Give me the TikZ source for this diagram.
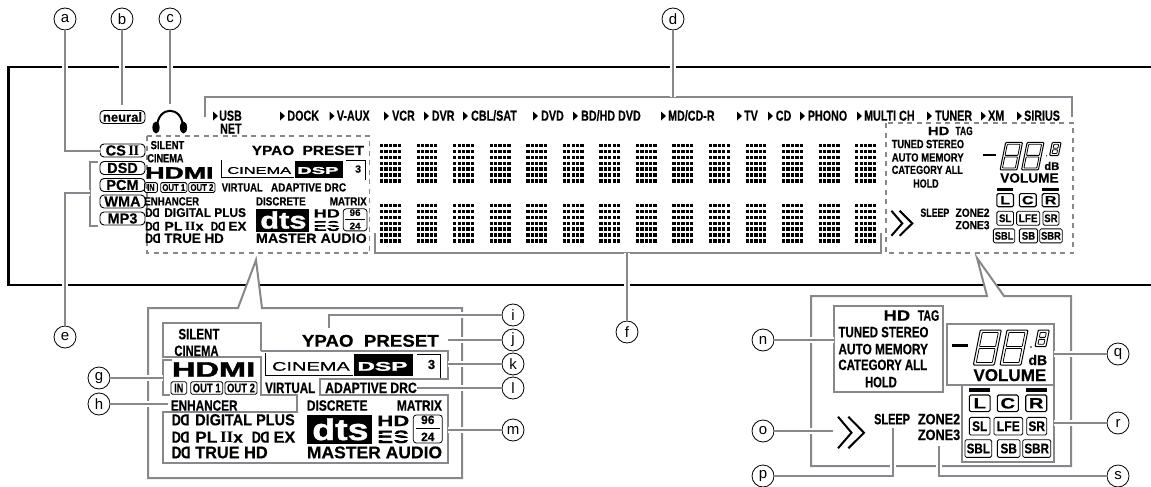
\documentclass[tikz,border=0pt]{standalone}
\usepackage{fontspec}
\usepackage{graphicx}
\setmainfont{Liberation Sans}
\newfontfamily\lcdface[FakeBold=.35]{Liberation Sans Bold}
\newfontfamily\heavyface[FakeBold=1.5]{Liberation Sans Bold}
\newfontfamily\medface[FakeBold=.6]{Liberation Sans}
\newfontfamily\romanface{Liberation Serif}
\definecolor{leadgray}{RGB}{135,135,140}
\newcommand\ddmark{D\kern-.04em\reflectbox{D}}
\newcommand\romanii{{\romanface\bfseries I\kern-.02em I}}
\tikzset{lcd/.style={font=\lcdface\fontsize{#1}{#1}\selectfont, inner sep=0pt, anchor=base west, transform shape}, heavy/.style={font=\heavyface\fontsize{#1}{#1}\selectfont, inner sep=0pt, anchor=base west, transform shape}, chip/.style={draw=black, rounded corners=1.5pt, line width=.8pt, inner sep=0pt, transform shape, font=\lcdface\fontsize{#1}{#1}\selectfont}, badge/.style={draw=black, rounded corners=4pt, line width=.9pt, inner sep=0pt, minimum width=45pt, minimum height=13pt, font=\lcdface\fontsize{#1}{#1}\selectfont}, tag/.style={circle, draw=black, line width=.8pt, fill=white, minimum size=22pt, inner sep=0pt, font=\fontsize{15}{15}\selectfont}, leader/.style={draw=leadgray, line width=2pt, preaction={draw=white, line width=6pt}}, callout/.style={draw=leadgray, line width=2pt, line join=miter, fill=white}, panelline/.style={draw=leadgray, line width=2pt}, dashbox/.style={draw=leadgray, line width=1.8pt, dash pattern=on 5pt off 4.5pt}}
% digit as drawn on the display
\newcommand\lcdeight[4]{\begin{scope}[shift={(#1,#2)}, xslant=.2]
\draw[line width=1pt, rounded corners=1pt] (0,0) rectangle (#3,#4);
\draw[line width=.8pt, rounded corners=.6pt] (2.5,2.5) rectangle ({#3-2.5},{#4/2-1});
\draw[line width=.8pt, rounded corners=.6pt] (2.5,{#4/2+1}) rectangle ({#3-2.5},{#4-2.5});
\end{scope}}
% left part of the display
\newcommand\leftdisplay[1]{
\foreach \posx/\posy/\sz/\stretchx/\ltext [count=\i] in {178.3/339.3/15/.77/SILENT, 174.3/356/15/.745/CINEMA, 301.7/346.7/17/1.1/{YPAO\ \ PRESET}, 427.7/369/13/1/3, 265/393/15/.77/VIRTUAL, 325/393/15/.815/{ADAPTIVE DRC}, 170.7/410.7/15/.785/ENHANCER, 171.7/425.3/16/.78/\ddmark, 195/425.3/16/.906/{DIGITAL PLUS}, 171.7/442.7/16/.78/\ddmark, 195/442.7/16/1.08/{PL\,\romanii x}, 251.7/442.7/16/.78/\ddmark, 273.3/442.7/16/1.02/EX, 171.7/458.3/17/.78/\ddmark, 195/458.3/17/.96/{TRUE HD}, 306.7/458.3/17/1.03/{MASTER AUDIO}, 306.7/410.7/15/.8/DISCRETE, 396.7/410.7/15/.8/MATRIX, 377/426/15/1.48/HD}
\node[lcd=\sz, xscale=\stretchx] (#1txt\i) at (\posx,\posy) {\ltext};
\node[heavy=21, xscale=1.55] (#1hdmi) at (171.7,376.7) {HDMI};
\foreach \posx/\boxw/\stretchx/\ltext [count=\i] in {178.8/15.7/.72/IN, 206.7/32/.76/OUT 1, 241/32/.76/OUT 2}
\node[chip=12.5, minimum width=\boxw pt, minimum height=12.5pt] (#1port\i) at (\posx,388) {\scalebox{\stretchx}[1]{\ltext}};
\draw[line width=.9pt] (265,353)--(265,375.5)--(353,375.5);
\draw[line width=.9pt] (417,354)--(440.7,354)--(440.7,378);
\node[lcd=12.5, font=\medface\fontsize{12.5}{12.5}\selectfont, xscale=1.6] (#1cinema) at (271.7,370.7) {CINEMA};
\fill (354,354) rectangle (413,375.5);
\node[heavy=12.5, xscale=1.95, text=white] (#1dsp) at (357,370.7) {DSP};
\fill (307,415) rectangle (372,444);
\node[heavy=30, xscale=1.25, text=white] (#1dts) at (312,440) {dts};
\node[lcd=18, xscale=1.33] (#1es) at (377,443) {ES};
\fill[white] (376,433.6) rectangle (410,435);
\fill[white] (376,438.2) rectangle (410,439.6);
\node[chip=12, rounded corners=3pt, minimum width=29pt, minimum height=28pt, anchor=center] (#1rate) at (427.8,429) {};
\node[lcd=12, anchor=base] (#1rateup) at (427.8,424) {96};
\draw[line width=1pt] (416,428)--(439.5,428);
\node[lcd=12, anchor=base] (#1ratedn) at (427.8,441) {24};
}
% right part of the display
\newcommand\rightdisplay[1]{
\foreach \posx/\posy/\sz/\stretchx/\ltext [count=\i] in {883.3/320.7/15/1.23/HD, 917.7/320.7/15/.7/TAG, 838.3/337.3/15/.766/{TUNED STEREO}, 838.3/354.3/15/.79/{AUTO MEMORY}, 838.3/370/15/.76/{CATEGORY ALL}, 865/387.3/15/.745/HOLD, 874/424.3/15/.73/SLEEP, 917.7/424.3/15/.846/ZONE2, 917.7/440/15/.846/ZONE3, 1028.3/365/14/1/dB, 973.3/381/17/1/VOLUME}
\node[lcd=\sz, xscale=\stretchx] (#1txt\i) at (\posx,\posy) {\ltext};
\lcdeight{980.3}{330}{21}{35}
\lcdeight{1007}{330}{21}{35}
\lcdeight{1038.3}{330}{11}{16.7}
\draw[line width=2.5pt] (951.7,345.7)--(968.3,345.7);
\fill (1031,347) circle (.8);
\draw[line width=2pt] (838,416.7)--(851.5,432.7)--(838,448.3);
\draw[line width=2pt] (848.3,416.7)--(864,432.7)--(848.3,448.3);
\fill (969,388.3) rectangle (990,391.7);
\fill (1026,388.3) rectangle (1047,391.7);
\foreach \posx/\boxw/\ltext [count=\i] in {979.7/20.7/L, 1007.8/21/C, 1036.2/21/R}
\node[chip=15, line width=1.1pt, minimum width=\boxw pt, minimum height=16.7pt] (#1front\i) at (\posx,403.3) {\scalebox{1.35}[1]{\ltext}};
\foreach \posx/\posy/\boxw/\stretchx/\ltext [count=\i] in {979.7/426.2/20.7/.85/SL, 1008.3/426.2/28.7/.88/LFE, 1036.7/426.2/20/.85/SR, 978.3/448.5/26.7/.83/SBL, 1008.7/448.5/22.7/.85/SB, 1036.7/448.5/28/.83/SBR}
\node[chip=14, minimum width=\boxw pt, minimum height=17.7pt] (#1spk\i) at (\posx,\posy) {\scalebox{\stretchx}[1]{\ltext}};
}
\begin{document}
\begin{tikzpicture}[x=1pt, y=-1pt]
\useasboundingbox (0,0) rectangle (1151,487);
\foreach \nm/\posx/\posy in {a/65/19, b/122/19, c/170/19, d/673/19, e/65/337, f/627/332, g/99/378, h/99/404, i/513/315, j/513/340, k/513/364, l/513/388, m/513/430, n/763/340, o/763/431, p/763/476, q/1118/354, r/1118/423, s/1118/476}
\node[tag] (\nm) at (\posx,\posy) {\nm};
\draw[line width=2.4pt] (1151,67)--(8.3,67)--(8.3,285)--(1151,285);
% overview
\draw[dashbox] (147,136) rectangle (369.5,253);
\draw[dashbox] (886,123) rectangle (1073,253);
\draw[panelline] (205,117)--(205,97)--(1072,97)--(1072,117);
\draw[panelline] (375,233)--(375,253)--(881,253)--(881,233);
\draw[panelline] (98,162)--(90,162)--(90,226)--(98,226);
\foreach \posx/\posy/\ltext [count=\i] in {219/120.7/USB, 220/133.5/NET, 287.3/120.7/DOCK, 336.7/120.7/V-AUX, 392/120.7/VCR, 431.7/120.7/DVR, 471/120.7/{CBL/SAT}, 541/120.7/DVD, 581/120.7/{BD/HD DVD}, 668/120.7/{MD/CD-R}, 744/120.7/TV, 775.7/120.7/CD, 807.7/120.7/PHONO, 864/120.7/{MULTI CH}, 935/120.7/TUNER, 988/120.7/XM, 1024/120.7/SIRIUS}
\node[lcd=14.5, xscale=.74] (src\i) at (\posx,\posy) {\ltext};
\foreach \posx in {213,280,329.5,384,424,463,533,573,661,737,768,800,857,927,981,1017}
\fill (\posx,111.5) -- ++(5,4.5) -- ++(-5,4.5) -- cycle;
\foreach \posy/\ltext [count=\i] in {150.5/{CS\,\romanii}, 168/DSD, 185/PCM, 201.5/WMA, 218.5/MP3}
\node[badge=14.5] (fmt\i) at (122.5,\posy) {\ltext};
\node[badge=13] (neural) at (122.5,117) {neural};
\draw[line width=2pt] (157,128) .. controls (157,105) and (183,105) .. (183,128);
\fill (156,127.5) ellipse (3.6 and 6);
\fill (183.5,127.5) ellipse (3.6 and 6);
\foreach \col in {0,...,13} \foreach \rw in {144,204} \foreach \i in {0,...,4} \foreach \j in {0,...,6}
\fill ({380+\col*36.55+\i*4.4},{\rw+\j*5.87}) rectangle +(3.3,3.4);
\begin{scope}[shift={(4.3,-118.2)}, xscale=.82, yscale=.788]
\leftdisplay{ovl}
\end{scope}
\begin{scope}[shift={(218.5,-118)}, xscale=.803, yscale=.789]
\rightdisplay{ovr}
\end{scope}
% enlarged parts
\draw[callout] (262,308)--(256,260)--(238,308)--(148,308)--(148,478)--(462,478)--(462,308)--cycle;
\draw[callout] (1004,296)--(977,258)--(987,296)--(811,296)--(811,466)--(1071,466)--(1071,296)--cycle;
\draw[panelline] (261,351)--(261,323.3)--(163.3,323.3)--(163.3,356.7)--(261,356.7)--(261,395)--(296.5,395)--(296.5,412)--(163.3,412)--(163.3,463.3)--(448.3,463.3)--(448.3,395)--(320,395)--(320,379)--(448.3,379)--(448.3,351)--(261,351);
\draw[panelline] (171.7,360)--(163.3,360)--(163.3,395)--(170,395);
\draw[panelline] (834,306) rectangle (942.7,391.7);
\draw[panelline] (947.3,324.3) rectangle (1054,385);
\draw[panelline] (962.3,385) rectangle (1054,461.7);
\leftdisplay{zml}
\rightdisplay{zmr}
% connectors
\coordinate (aend) at (100,151); \coordinate (bend) at (122,105); \coordinate (cend) at (170,104); \coordinate (dend) at (673,97);
\coordinate (eend) at (90,193); \coordinate (fend) at (627,253); \coordinate (gend) at (163.3,378); \coordinate (hend) at (168,404);
\coordinate (iend) at (329.3,328); \coordinate (jend) at (448.3,340); \coordinate (kend) at (448.3,364); \coordinate (lend) at (417.3,388); \coordinate (mend) at (448.3,430);
\coordinate (nend) at (834,340); \coordinate (oend) at (833,431); \coordinate (pend) at (893.3,428.3); \coordinate (qend) at (1054,354); \coordinate (rend) at (1054,423); \coordinate (send) at (939,446);
\draw[leader] (a.south) |- (aend);
\draw[leader] (b)--(bend);
\draw[leader] (c)--(cend);
\draw[leader] (d)--(dend);
\draw[leader] (e.north) |- (eend);
\draw[leader] (f)--(fend);
\draw[leader] (g)--(gend);
\draw[leader] (h)--(hend);
\draw[leader] (i.west) -| (iend);
\draw[leader] (j)--(jend);
\draw[leader] (k)--(kend);
\draw[leader] (l)--(lend);
\draw[leader] (m)--(mend);
\draw[leader] (n)--(nend);
\draw[leader] (o)--(oend);
\draw[leader] (p.east) -| (pend);
\draw[leader] (q)--(qend);
\draw[leader] (r)--(rend);
\draw[leader] (s.west) -| (send);
\end{tikzpicture}
\end{document}
